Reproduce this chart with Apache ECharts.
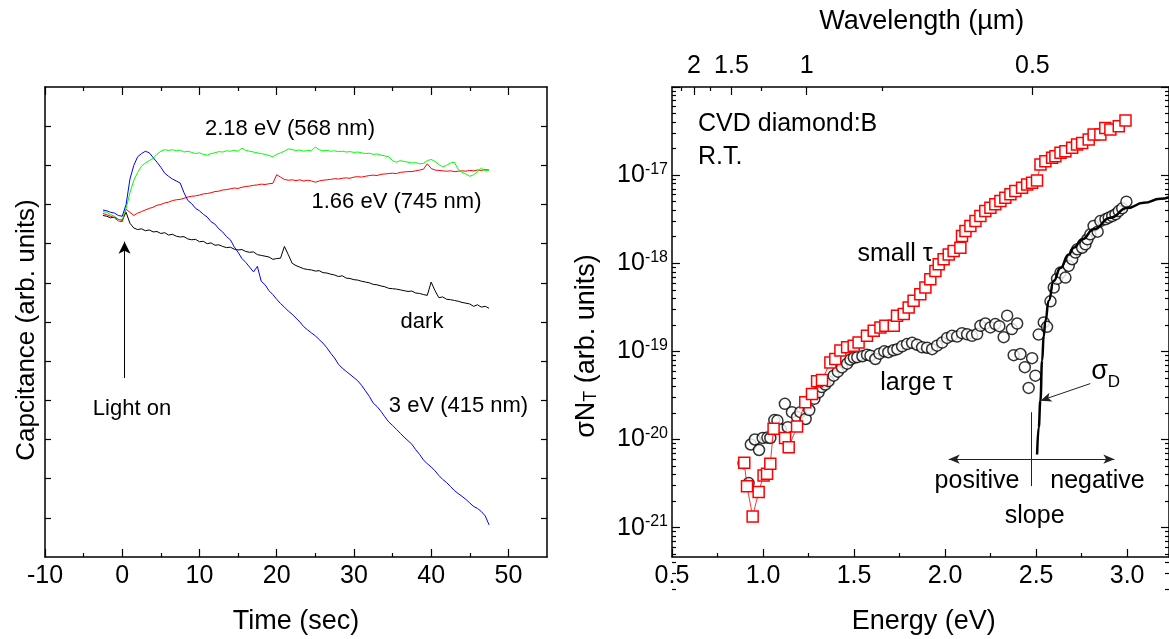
<!DOCTYPE html>
<html><head><meta charset="utf-8">
<script src="https://cdn.jsdelivr.net/npm/echarts/dist/echarts.min.js"></script>
<style>html,body{margin:0;padding:0;background:#fff}#c{width:1169px;height:639px}</style>
</head><body><div id="c"></div>
<script>
// ---------- LEFT PANEL DATA (capacitance transients) ----------
const timeSec = [-2.5,-2,-1.5,-1,-0.5,0,0.5,1,1.5,2,2.5,3,3.5,4,4.5,5,5.5,6,6.5,7,7.5,8,8.5,9,9.5,10,10.5,11,11.5,12,12.5,13,13.5,14,14.5,15,15.5,16,16.5,17,17.5,18,18.5,19,19.5,20,20.5,21,21.5,22,22.5,23,23.5,24,24.5,25,25.5,26,26.5,27,27.5,28,28.5,29,29.5,30,30.5,31,31.5,32,32.5,33,33.5,34,34.5,35,35.5,36,36.5,37,37.5,38,38.5,39,39.5,40,40.5,41,41.5,42,42.5,43,43.5,44,44.5,45,45.5,46,46.5,47,47.5];
const darkCap = [8.72,8.70,8.66,8.68,8.62,8.60,8.80,8.52,8.40,8.36,8.38,8.33,8.35,8.30,8.31,8.26,8.28,8.22,8.24,8.19,8.17,8.18,8.12,8.10,8.11,8.05,8.06,8.00,8.02,7.96,7.97,7.93,7.90,7.91,7.86,7.84,7.85,7.80,7.78,7.79,7.72,7.70,7.68,7.66,7.60,7.62,7.63,7.93,7.72,7.50,7.44,7.40,7.36,7.34,7.33,7.30,7.31,7.26,7.25,7.22,7.20,7.16,7.18,7.12,7.11,7.08,7.07,7.04,7.02,7.00,6.96,6.95,6.92,6.90,6.86,6.85,6.84,6.82,6.80,6.78,6.79,6.74,6.73,6.70,6.68,7.02,6.80,6.62,6.64,6.58,6.57,6.55,6.53,6.50,6.48,6.46,6.40,6.44,6.38,6.40,6.35];
const cap415 = [8.86,8.84,8.80,8.78,8.72,8.70,9.00,9.65,10.00,10.22,10.30,10.36,10.32,10.20,10.08,9.95,9.80,9.72,9.65,9.60,9.55,9.30,9.10,9.02,8.90,8.84,8.75,8.68,8.56,8.50,8.38,8.30,8.18,8.10,7.92,7.78,7.62,7.52,7.40,7.28,7.42,7.04,6.95,6.80,6.70,6.58,6.47,6.38,6.28,6.20,6.10,6.00,5.88,5.80,5.72,5.65,5.55,5.46,5.34,5.20,5.08,4.92,4.82,4.74,4.66,4.58,4.50,4.38,4.24,4.10,3.93,3.84,3.72,3.58,3.45,3.36,3.26,3.16,3.06,2.97,2.88,2.74,2.62,2.48,2.38,2.30,2.20,2.08,1.98,1.90,1.80,1.70,1.62,1.55,1.47,1.38,1.29,1.24,1.16,1.05,0.82];
const cap568 = [8.82,8.80,8.74,8.70,8.62,8.62,8.90,9.30,9.62,9.82,9.98,10.06,10.12,10.18,10.28,10.36,10.40,10.38,10.40,10.37,10.39,10.34,10.36,10.33,10.30,10.32,10.28,10.26,10.30,10.32,10.35,10.34,10.37,10.36,10.38,10.36,10.44,10.38,10.36,10.34,10.32,10.30,10.28,10.25,10.22,10.28,10.32,10.36,10.42,10.40,10.38,10.39,10.36,10.38,10.37,10.47,10.40,10.37,10.38,10.36,10.37,10.35,10.36,10.34,10.35,10.33,10.34,10.32,10.30,10.31,10.28,10.29,10.26,10.24,10.22,10.12,10.08,10.12,10.10,10.08,10.06,10.07,10.04,10.05,10.12,10.15,10.10,10.02,9.96,10.00,10.06,10.08,9.90,9.82,9.78,9.72,9.76,9.84,9.93,9.86,9.88];
const cap745 = [8.77,8.74,8.70,8.66,8.58,8.56,8.88,8.80,8.72,8.78,8.82,8.86,8.90,8.93,8.98,9.00,9.04,9.06,9.10,9.12,9.13,9.16,9.19,9.21,9.22,9.24,9.27,9.28,9.30,9.33,9.34,9.37,9.38,9.40,9.42,9.41,9.44,9.46,9.47,9.49,9.50,9.52,9.51,9.53,9.54,9.76,9.70,9.64,9.62,9.63,9.61,9.63,9.60,9.62,9.60,9.57,9.60,9.62,9.63,9.64,9.66,9.65,9.67,9.68,9.67,9.70,9.71,9.70,9.72,9.74,9.75,9.74,9.77,9.78,9.79,9.80,9.79,9.82,9.83,9.84,9.84,9.86,9.88,9.90,10.04,9.92,9.88,9.87,9.86,9.85,9.86,9.84,9.85,9.86,9.85,9.87,9.86,9.88,9.87,9.89,9.88];

// ---------- RIGHT PANEL DATA (photo-ionisation spectra) ----------
const smallTauE = [0.897,0.912,0.943,0.976,1.003,1.022,1.040,1.058,1.121,1.141,1.187,1.232,1.269,1.297,1.324,1.370,1.397,1.425,1.462,1.498,1.525,1.571,1.608,1.645,1.672,1.718,1.736,1.773,1.800,1.827,1.864,1.892,1.919,1.947,1.965,1.992,2.020,2.047,2.084,2.093,2.112,2.139,2.167,2.194,2.221,2.249,2.276,2.304,2.331,2.359,2.386,2.423,2.451,2.478,2.505,2.524,2.551,2.588,2.606,2.634,2.661,2.698,2.725,2.753,2.789,2.816,2.853,2.880,2.908,2.954,2.991];
const smallTauVal = [5.44e-21,2.94e-21,1.34e-21,2.53e-21,3.91e-21,4.09e-21,5.31e-21,1.32e-20,1.04e-20,8.19e-21,1.40e-20,2.64e-20,3.29e-20,4.57e-20,4.74e-20,7.50e-20,8.18e-20,1.02e-19,1.11e-19,1.16e-19,1.26e-19,1.50e-19,1.71e-19,1.87e-19,1.95e-19,1.95e-19,2.54e-19,2.65e-19,3.15e-19,3.75e-19,4.46e-19,5.30e-19,6.59e-19,8.19e-19,9.75e-19,1.11e-18,1.26e-18,1.38e-18,1.50e-18,2.04e-18,2.32e-18,2.65e-18,3.01e-18,3.43e-18,3.91e-18,4.26e-18,4.66e-18,5.08e-18,5.54e-18,6.05e-18,6.59e-18,7.18e-18,7.85e-18,8.18e-18,8.71e-18,1.32e-17,1.44e-17,1.57e-17,1.64e-17,1.79e-17,1.87e-17,2.04e-17,2.23e-17,2.32e-17,2.54e-17,2.89e-17,2.89e-17,3.43e-17,3.29e-17,3.59e-17,4.16e-17];
const largeTauE = [0.893,0.921,0.933,0.955,0.978,0.998,1.024,1.040,1.062,1.079,1.098,1.120,1.136,1.159,1.187,1.205,1.234,1.254,1.282,1.305,1.323,1.342,1.360,1.388,1.411,1.434,1.462,1.480,1.499,1.518,1.546,1.571,1.590,1.617,1.639,1.666,1.688,1.716,1.738,1.764,1.791,1.819,1.846,1.874,1.901,1.929,1.956,1.984,2.011,2.038,2.066,2.093,2.121,2.148,2.176,2.194,2.221,2.249,2.276,2.298,2.322,2.341,2.367,2.396,2.377,2.414,2.438,2.459,2.478,2.496,2.514,2.542,2.560,2.579,2.597,2.615,2.634,2.661,2.679,2.698,2.716,2.727,2.753,2.771,2.782,2.798,2.816,2.838,2.853,2.881,2.899,2.918,2.936,2.954,2.973,2.996];
const largeTauVal = [5.39e-21,3.20e-21,8.77e-21,1.00e-20,7.60e-21,1.04e-20,1.05e-20,1.04e-20,1.66e-20,1.64e-20,1.30e-20,2.54e-20,1.38e-20,2.04e-20,1.80e-20,2.04e-20,1.71e-20,2.16e-20,2.89e-20,3.43e-20,3.93e-20,4.20e-20,4.59e-20,5.30e-20,5.89e-20,6.58e-20,7.25e-20,8.05e-20,8.47e-20,8.59e-20,8.81e-20,9.17e-20,8.93e-20,8.19e-20,9.42e-20,1.00e-19,9.77e-20,1.03e-19,1.06e-19,1.14e-19,1.21e-19,1.25e-19,1.19e-19,1.11e-19,1.10e-19,1.06e-19,1.16e-19,1.26e-19,1.42e-19,1.50e-19,1.47e-19,1.61e-19,1.56e-19,1.50e-19,1.57e-19,1.95e-19,2.07e-19,1.87e-19,2.04e-19,1.93e-19,1.45e-19,2.54e-19,1.79e-19,2.07e-19,9.05e-20,9.33e-20,6.62e-20,3.85e-20,8.37e-20,5.30e-20,1.55e-19,2.13e-19,1.90e-19,3.70e-19,5.30e-19,6.65e-19,7.83e-19,6.87e-19,9.33e-19,1.11e-18,1.32e-18,1.44e-18,1.50e-18,1.64e-18,1.87e-18,2.13e-18,2.65e-18,2.28e-18,3.01e-18,3.15e-18,3.29e-18,3.43e-18,3.59e-18,3.91e-18,4.20e-18,4.99e-18];
const sigmaDE = [2.5055,2.5143,2.5236,2.5330,2.5418,2.5511,2.5692,2.5967,2.6335,2.6791,2.7066,2.7527,2.8165,2.9082,3.0,3.0912,3.1830,3.23];
const sigmaDVal = [6.76e-21,1.37e-20,2.76e-20,7.83e-20,1.50e-19,2.22e-19,3.75e-19,6.31e-19,8.85e-19,1.26e-18,1.50e-18,1.87e-18,2.43e-18,3.29e-18,4.23e-18,4.85e-18,5.39e-18,5.62e-18];

// ---------- TICKS ----------
const timeTicks = [-10,0,10,20,30,40,50];
const timeMinorTicks = [-5,5,15,25,35,45];
const capTicks = [1,2,3,4,5,6,7,8,9,10,11];
const energyTicks = [0.5,1.0,1.5,2.0,2.5,3.0];
const energyMinorTicks = [0.75,1.25,1.75,2.25,2.75];
const wavelengthTicks = [2,1.5,1,0.5];
const wavelengthMinorTicks = [2.25,1.75,1.25,0.75];
const decadeExps = [-21,-20,-19,-18,-17,-16];
const labelExps = [-21,-20,-19,-18,-17];
const minorMantissas = [2,3,4,5,6,7,8,9];

// ---------- ANNOTATION ARROWS (data coordinates) ----------
const lightOnArrow = [[0.3,4.57],[0.3,8.05]];
const sigmaDArrow = [[2.798,4.31e-20],[2.524,2.76e-20]];
const slopeArrow = [[2.020,5.98e-21],[2.930,5.98e-21]];
const slopeDivider = [[2.473,2.04e-20],[2.473,2.96e-21]];

const HC = 1.2398;
const FONT = "'Liberation Sans', Arial, Helvetica, sans-serif";

const zip = (a,b)=>a.map((x,i)=>[x,b[i]]);
const decadeVals = decadeExps.map(e=>Math.pow(10,e));
const labelVals = labelExps.map(e=>Math.pow(10,e));
const minorLogVals = [];
[-22].concat(decadeExps.slice(0,-1)).forEach(e=>minorMantissas.forEach(m=>minorLogVals.push(m*Math.pow(10,e))));
const wlE = wavelengthTicks.map(l=>HC/l);
const wlMinorE = wavelengthMinorTicks.map(l=>HC/l);

const lineSt = {color:'#000', width:1.5};
const tickSt = {color:'#000', width:1.2};
function ax(base, ticks, len, showLine, label){
  return Object.assign({
    splitLine:{show:false}, minorTick:{show:false}, axisPointer:{show:false},
    axisLine:{show:showLine, onZero:false, lineStyle:lineSt},
    axisTick:{show:true, inside:true, length:len, customValues:ticks, lineStyle:tickSt},
    axisLabel: label || {show:false}
  }, base);
}
const lblBase = {show:true, fontSize:25, fontFamily:FONT, color:'#000'};

const timeX = {type:'value', gridIndex:0, min:-10, max:55};
const capY = {type:'value', gridIndex:0, min:0, max:12};
const enX = {type:'value', gridIndex:1, min:0.5, max:3.23};
const logY = {type:'log', logBase:10, gridIndex:1, min:4.64e-22, max:1e-16};

const xAxis = [
  ax(Object.assign({position:'bottom'}, timeX), timeTicks, 8, true, Object.assign({customValues:timeTicks, margin:7}, lblBase)),
  ax(Object.assign({position:'bottom'}, timeX), timeMinorTicks, 4, false),
  ax(Object.assign({position:'top'}, timeX), timeTicks, 8, true),
  ax(Object.assign({position:'top'}, timeX), timeMinorTicks, 4, false),
  ax(Object.assign({position:'bottom'}, enX), energyTicks, 8, true, Object.assign({customValues:energyTicks, margin:7, formatter:v=>v.toFixed(1)}, lblBase)),
  ax(Object.assign({position:'bottom'}, enX), energyMinorTicks, 4, false),
  ax(Object.assign({position:'top'}, enX), wlE, 8, true, Object.assign({customValues:wlE, margin:8, formatter:v=>{
      let best = wavelengthTicks[0];
      wavelengthTicks.forEach(l=>{ if (Math.abs(HC/l - v) < Math.abs(HC/best - v)) best = l; });
      return String(best);
  }}, lblBase)),
  ax(Object.assign({position:'top'}, enX), wlMinorE, 4, false)
];
const yAxis = [
  ax(Object.assign({position:'left'}, capY), capTicks, 6, true),
  ax(Object.assign({position:'right'}, capY), capTicks, 6, true),
  ax(Object.assign({position:'left'}, logY), decadeVals, 8, true, Object.assign({customValues:labelVals, margin:4,
      formatter:v=>'{b|10}{s|' + Math.round(Math.log10(v)) + '}',
      rich:{b:{fontSize:25, fontFamily:FONT, color:'#000', lineHeight:28},
            s:{fontSize:16, fontFamily:FONT, color:'#000', verticalAlign:'top', lineHeight:18}}}, lblBase)),
  ax(Object.assign({position:'left'}, logY), minorLogVals, 4, false),
  ax(Object.assign({position:'right'}, logY), decadeVals, 8, true),
  ax(Object.assign({position:'right'}, logY), minorLogVals, 4, false)
];

function mline(pair, startSym, endSym, color){
  return [{coord:pair[0], symbol:startSym}, {coord:pair[1], symbol:endSym}];
}

const series = [
  {type:'line', name:'dark', xAxisIndex:0, yAxisIndex:0, data:zip(timeSec, darkCap), symbol:'none', lineStyle:{color:'#000', width:1},
   markLine:{silent:true, symbolSize:[9,12], label:{show:false}, lineStyle:{color:'#000', width:1, type:'solid'},
     data:[mline(lightOnArrow,'none','arrow')]}},
  {type:'line', name:'1.66 eV', xAxisIndex:0, yAxisIndex:0, data:zip(timeSec, cap745), symbol:'none', lineStyle:{color:'#ff0000', width:1}},
  {type:'line', name:'2.18 eV', xAxisIndex:0, yAxisIndex:0, data:zip(timeSec, cap568), symbol:'none', lineStyle:{color:'#00ff00', width:1}},
  {type:'line', name:'3 eV', xAxisIndex:0, yAxisIndex:0, data:zip(timeSec, cap415), symbol:'none', lineStyle:{color:'#0000ff', width:1}},
  {type:'line', name:'small tau', xAxisIndex:4, yAxisIndex:2, data:zip(smallTauE, smallTauVal), symbol:'rect', symbolSize:11, showAllSymbol:true,
   itemStyle:{color:'#fff', borderColor:'#ff0000', borderWidth:1.5}, lineStyle:{color:'#ff0000', width:0.8}},
  {type:'scatter', name:'large tau', xAxisIndex:4, yAxisIndex:2, data:zip(largeTauE, largeTauVal), symbol:'circle', symbolSize:11,
   itemStyle:{color:'#fff', borderColor:'#000', borderWidth:1.5}},
  {type:'line', name:'sigma D', xAxisIndex:4, yAxisIndex:2, data:zip(sigmaDE, sigmaDVal), symbol:'none', smooth:true, smoothMonotone:'x',
   lineStyle:{color:'#000', width:2.5},
   markLine:{silent:true, symbolSize:[7,11], label:{show:false}, lineStyle:{color:'#222', width:1, type:'solid'},
     data:[mline(sigmaDArrow,'none','arrow'), mline(slopeArrow,'arrow','arrow'), mline(slopeDivider,'none','none')]}}
];

function txt(text, x, y, size, align){
  return {type:'text', x:x, y:y, z:100, silent:true, style:{text:text, fontSize:size, fontFamily:FONT, fill:'#000',
    align:align||'center', verticalAlign:'middle', textAlign:align||'center', textVerticalAlign:'middle'}};
}
function vtxt(text, x, y, size, rich){
  const t = txt(text, x, y, size);
  t.rotation = Math.PI/2;
  if (rich) t.style.rich = rich;
  return t;
}
const graphic = [
  txt('2.18 eV (568 nm)', 290, 129, 22),
  txt('1.66 eV (745 nm)', 396.5, 202, 22),
  txt('dark', 422, 321.5, 22),
  txt('3 eV (415 nm)', 458.5, 405.5, 22),
  txt('Light on', 132, 409, 22),
  txt('Time (sec)', 296, 622, 27),
  vtxt('Capcitance (arb. units)', 27, 330, 26),
  txt('CVD diamond:B', 698, 124.5, 25, 'left'),
  txt('R.T.', 698, 157.5, 25, 'left'),
  txt('small \u03c4', 895, 254, 25),
  txt('large \u03c4', 916.5, 383, 25),
  txt('positive', 977, 481, 25),
  txt('negative', 1097.5, 481, 25),
  txt('slope', 1034.7, 516, 25),
  txt('\u03c3', 1099.5, 372, 27),
  txt('D', 1114, 382, 17),
  txt('Wavelength (\u00b5m)', 921.7, 22, 27),
  txt('Energy (eV)', 923.8, 622, 27),
  vtxt('{a|\u03c3N}{b|T}{a| (arb. units)}', 587, 346, 27, {
    a:{fontSize:27, fontFamily:FONT, fill:'#000', color:'#000'},
    b:{fontSize:18, fontFamily:FONT, fill:'#000', color:'#000', verticalAlign:'bottom'}})
];

const chart = echarts.init(document.getElementById('c'), null, {renderer:'canvas'});
chart.setOption({
  animation:false,
  backgroundColor:'#fff',
  textStyle:{fontFamily:FONT},
  grid:[
    {left:45, top:87, width:502, height:470, outerBoundsMode:'none'},
    {left:672, top:87, width:497, height:470, outerBoundsMode:'none'}
  ],
  xAxis:xAxis, yAxis:yAxis, series:series, graphic:graphic
});
</script></body></html>
